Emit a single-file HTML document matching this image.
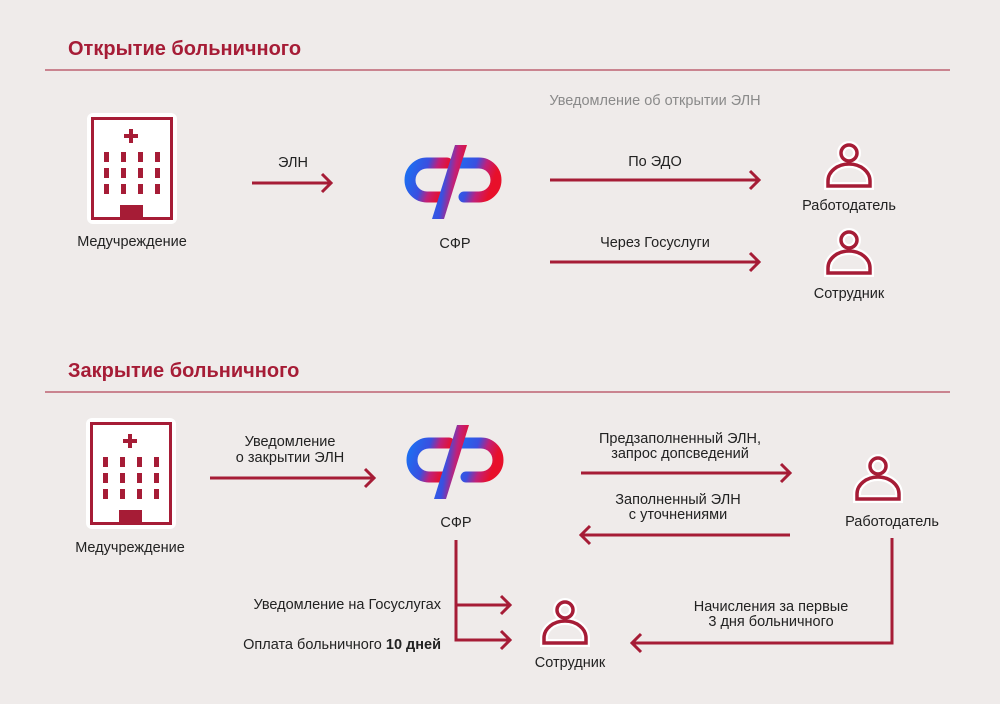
<!DOCTYPE html>
<html><head><meta charset="utf-8"><style>
body{margin:0;background:#efebea;}
svg{display:block;}
text{font-family:"Liberation Sans",sans-serif;font-size:14.5px;fill:#222;}
.t{font-size:20px;font-weight:bold;fill:#a61c36;}
</style></head><body>
<svg width="1000" height="704" viewBox="0 0 1000 704">
<defs>
<linearGradient id="g" x1="0" y1="0" x2="1" y2="0.3">
<stop offset="0" stop-color="#1e6df0"/><stop offset="0.45" stop-color="#3a4fe0"/><stop offset="0.7" stop-color="#c0207a"/><stop offset="1" stop-color="#e8102a"/></linearGradient>
<g id="logo">
<path d="M47,28 H27 A17,17 0 0 0 27,62 H42" fill="none" stroke="url(#g)" stroke-width="11" stroke-linecap="round"/>
<path d="M57,28 H79 A17,17 0 0 1 79,62 H64" fill="none" stroke="url(#g)" stroke-width="11" stroke-linecap="round"/>
<path d="M55,10 L67,10 L44,84 L32,84 Z" fill="url(#g)"/>
</g>
<g id="bld">
<rect x="-4" y="-4" width="90" height="111" rx="6" fill="#fff"/>
<rect x="1.5" y="1.5" width="79" height="100" fill="none" stroke="#a61c36" stroke-width="3"/>
<rect x="38" y="12" width="4" height="14" fill="#a61c36"/><rect x="33" y="17" width="14" height="4" fill="#a61c36"/>
<g fill="#a61c36">
<rect x="13" y="35" width="5" height="10"/><rect x="30" y="35" width="5" height="10"/><rect x="47" y="35" width="5" height="10"/><rect x="64" y="35" width="5" height="10"/>
<rect x="13" y="51" width="5" height="10"/><rect x="30" y="51" width="5" height="10"/><rect x="47" y="51" width="5" height="10"/><rect x="64" y="51" width="5" height="10"/>
<rect x="13" y="67" width="5" height="10"/><rect x="30" y="67" width="5" height="10"/><rect x="47" y="67" width="5" height="10"/><rect x="64" y="67" width="5" height="10"/>
<rect x="29" y="88" width="23" height="14"/></g>
</g>
<g id="p">
<g fill="none" stroke="#fff" stroke-width="8"><circle cx="0" cy="0" r="8"/><path d="M-21,33 V28 A21,17 0 0 1 21,28 V33 Z"/></g>
<g fill="none" stroke="#a61c36" stroke-width="3.5"><circle cx="0" cy="0" r="8"/><path d="M-21,33 V28 A21,17 0 0 1 21,28 V33 Z"/></g>
</g>
</defs>
<text class="t" x="68" y="55">Открытие больничного</text>
<line x1="45" y1="70" x2="950" y2="70" stroke="#a61c36" stroke-width="1"/>
<text x="655" y="105" text-anchor="middle" style="fill:#8a8a8a">Уведомление об открытии ЭЛН</text>
<use href="#bld" x="91" y="117"/>
<text x="132" y="246" text-anchor="middle">Медучреждение</text>
<use href="#logo" x="400" y="135"/>
<text x="455" y="248" text-anchor="middle">СФР</text>
<text x="293" y="167" text-anchor="middle">ЭЛН</text>
<text x="655" y="166" text-anchor="middle">По ЭДО</text>
<text x="655" y="247" text-anchor="middle">Через Госуслуги</text>
<use href="#p" x="849" y="153"/>
<text x="849" y="210" text-anchor="middle">Работодатель</text>
<use href="#p" x="849" y="240"/>
<text x="849" y="298" text-anchor="middle">Сотрудник</text>
<text class="t" x="68" y="377">Закрытие больничного</text>
<line x1="45" y1="392" x2="950" y2="392" stroke="#a61c36" stroke-width="1"/>
<use href="#bld" x="90" y="422"/>
<text x="130" y="552" text-anchor="middle">Медучреждение</text>
<use href="#logo" x="402" y="415"/>
<text x="456" y="527" text-anchor="middle">СФР</text>
<text x="290" y="446" text-anchor="middle">Уведомление</text>
<text x="290" y="462" text-anchor="middle">о закрытии ЭЛН</text>
<text x="680" y="443" text-anchor="middle">Предзаполненный ЭЛН,</text>
<text x="680" y="458" text-anchor="middle">запрос допсведений</text>
<text x="678" y="504" text-anchor="middle">Заполненный ЭЛН</text>
<text x="678" y="519" text-anchor="middle">с уточнениями</text>
<use href="#p" x="878" y="466"/>
<text x="892" y="526" text-anchor="middle">Работодатель</text>
<use href="#p" x="565" y="610"/>
<text x="570" y="667" text-anchor="middle">Сотрудник</text>
<text x="441" y="609" text-anchor="end">Уведомление на Госуслугах</text>
<text x="441" y="649" text-anchor="end">Оплата больничного <tspan font-weight="bold">10 дней</tspan></text>
<text x="771" y="611" text-anchor="middle">Начисления за первые</text>
<text x="771" y="626" text-anchor="middle">3 дня больничного</text>
<g fill="none" stroke="#a61c36" stroke-width="3">
<path d="M252,183 H331 M322,174 L331,183 L322,192"/>
<path d="M550,180 H759 M750,171 L759,180 L750,189"/>
<path d="M550,262 H759 M750,253 L759,262 L750,271"/>
<path d="M210,478 H374 M365,469 L374,478 L365,487"/>
<path d="M581,473 H790 M781,464 L790,473 L781,482"/>
<path d="M790,535 H581 M590,526 L581,535 L590,544"/>
<path d="M456,540 V640 H510 M456,605 H510 M501,596 L510,605 L501,614 M501,631 L510,640 L501,649"/>
<path d="M892,538 V643 H632 M641,634 L632,643 L641,652"/>
</g>
</svg>
</body></html>
